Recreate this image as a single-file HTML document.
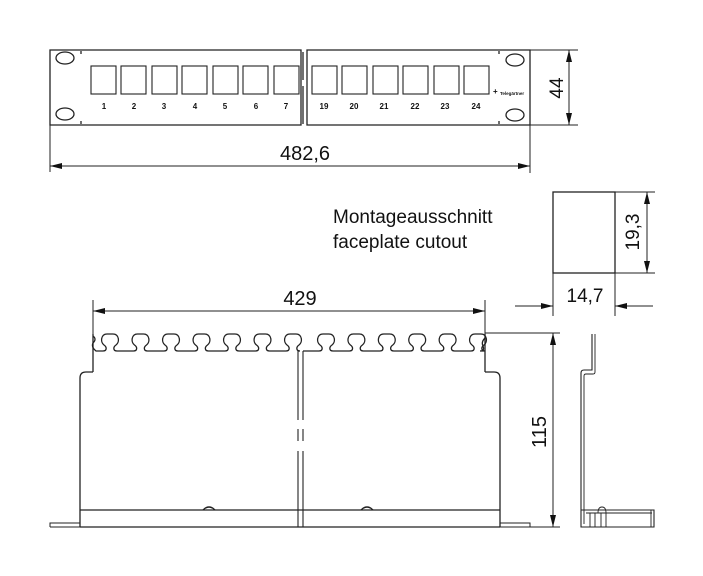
<!DOCTYPE html>
<html><head><meta charset="utf-8"><style>
html,body{margin:0;padding:0;background:#fff;}
svg{display:block;}
text{font-family:"Liberation Sans","DejaVu Sans",sans-serif;fill:#111;}
</style></head><body>
<svg width="703" height="576" viewBox="0 0 703 576" xmlns="http://www.w3.org/2000/svg">
<defs>
<marker id="a" viewBox="0 0 12 6" refX="12" refY="3" markerWidth="12" markerHeight="6" orient="auto-start-reverse" markerUnits="userSpaceOnUse"><path d="M0,0 L12,3 L0,6 z" fill="#111"/></marker>
</defs>
<g fill="none" stroke="#222" stroke-width="1.3">
<!-- front panel -->
<path d="M50,50 H301 V125 H50 Z"/>
<path d="M307,50 H530 V125 H307 Z"/>
<line x1="81" y1="51" x2="81" y2="54"/><line x1="81" y1="121" x2="81" y2="124"/>
<line x1="499" y1="51" x2="499" y2="54"/><line x1="499" y1="121" x2="499" y2="124"/>
<line x1="303" y1="52" x2="303" y2="80"/><line x1="303" y1="86" x2="303" y2="124"/>
<ellipse cx="65" cy="58" rx="9" ry="6"/><ellipse cx="65" cy="114" rx="9" ry="6"/>
<ellipse cx="515" cy="60" rx="9" ry="6"/><ellipse cx="515" cy="115" rx="9" ry="6"/>
<g stroke-width="1.1">
<rect x="91" y="66" width="25" height="28"/><rect x="121" y="66" width="25" height="28"/>
<rect x="152" y="66" width="25" height="28"/><rect x="182" y="66" width="25" height="28"/>
<rect x="213" y="66" width="25" height="28"/><rect x="243" y="66" width="25" height="28"/>
<rect x="274" y="66" width="25" height="28"/>
<rect x="312" y="66" width="25" height="28"/><rect x="342" y="66" width="25" height="28"/>
<rect x="373" y="66" width="25" height="28"/><rect x="403" y="66" width="25" height="28"/>
<rect x="434" y="66" width="25" height="28"/><rect x="464" y="66" width="25" height="28"/>
</g>
<!-- 44 dim -->
<line x1="530" y1="50" x2="578" y2="50" stroke-width="1"/><line x1="530" y1="125" x2="578" y2="125" stroke-width="1"/>
<line x1="569" y1="50" x2="569" y2="125" stroke-width="1" marker-start="url(#a)" marker-end="url(#a)"/>
<!-- 482,6 dim -->
<line x1="50" y1="125" x2="50" y2="172" stroke-width="1"/><line x1="530" y1="125" x2="530" y2="173" stroke-width="1"/>
<line x1="50" y1="166" x2="530" y2="166" stroke-width="1" marker-start="url(#a)" marker-end="url(#a)"/>
<!-- cutout -->
<rect x="553" y="192" width="62" height="81"/>
<line x1="615" y1="192" x2="655" y2="192" stroke-width="1"/><line x1="615" y1="273" x2="655" y2="273" stroke-width="1"/>
<line x1="647" y1="192" x2="647" y2="273" stroke-width="1" marker-start="url(#a)" marker-end="url(#a)"/>
<line x1="553" y1="273" x2="553" y2="316" stroke-width="1"/><line x1="615" y1="273" x2="615" y2="316" stroke-width="1"/>
<line x1="515" y1="306" x2="553" y2="306" stroke-width="1" marker-end="url(#a)"/>
<line x1="653" y1="306" x2="615" y2="306" stroke-width="1" marker-end="url(#a)"/>
<!-- 429 dim -->
<line x1="93" y1="300" x2="93" y2="334" stroke-width="1"/><line x1="485" y1="300" x2="485" y2="334" stroke-width="1"/>
<line x1="93" y1="311" x2="485" y2="311" stroke-width="1" marker-start="url(#a)" marker-end="url(#a)"/>
<!-- comb -->
<path d="M93,334 V372 M485,334 V372"/>
<path d="M93,336 q4,3 0,7 q-2,4 3,8 H103
c4,0 4,-4 1,-6 c-4,-3 -3,-11 3,-11 h6 c6,0 7,8 3,11 c-3,2 -3,6 1,6 h16.5
c4,0 4,-4 1,-6 c-4,-3 -3,-11 3,-11 h6 c6,0 7,8 3,11 c-3,2 -3,6 1,6 h16.5
c4,0 4,-4 1,-6 c-4,-3 -3,-11 3,-11 h6 c6,0 7,8 3,11 c-3,2 -3,6 1,6 h16.5
c4,0 4,-4 1,-6 c-4,-3 -3,-11 3,-11 h6 c6,0 7,8 3,11 c-3,2 -3,6 1,6 h16.5
c4,0 4,-4 1,-6 c-4,-3 -3,-11 3,-11 h6 c6,0 7,8 3,11 c-3,2 -3,6 1,6 h16.5
c4,0 4,-4 1,-6 c-4,-3 -3,-11 3,-11 h6 c6,0 7,8 3,11 c-3,2 -3,6 1,6 h16.5
c4,0 4,-4 1,-6 c-4,-3 -3,-11 3,-11 h6 c6,0 7,8 3,11 c-3,2 -3,6 1,6 H298"/>
<path d="M303,351 H319
c4,0 4,-4 1,-6 c-4,-3 -3,-11 3,-11 h6 c6,0 7,8 3,11 c-3,2 -3,6 1,6 h16.4
c4,0 4,-4 1,-6 c-4,-3 -3,-11 3,-11 h6 c6,0 7,8 3,11 c-3,2 -3,6 1,6 h16.4
c4,0 4,-4 1,-6 c-4,-3 -3,-11 3,-11 h6 c6,0 7,8 3,11 c-3,2 -3,6 1,6 h16.4
c4,0 4,-4 1,-6 c-4,-3 -3,-11 3,-11 h6 c6,0 7,8 3,11 c-3,2 -3,6 1,6 h16.4
c4,0 4,-4 1,-6 c-4,-3 -3,-11 3,-11 h6 c6,0 7,8 3,11 c-3,2 -3,6 1,6 h16.4
c4,0 4,-4 1,-6 c-4,-3 -3,-11 3,-11 h6 c6,0 7,8 3,11 c-3,2 -3,6 1,6 H480 q5,0 3,-5 q-2,-4 2,-8"/>
<!-- body -->
<path d="M93,372 H86 q-6,0 -6,6 V527 M485,372 H494 q6,0 6,6 V527"/>
<line x1="80" y1="510" x2="500" y2="510"/>
<line x1="80" y1="527" x2="500" y2="527"/>
<path d="M50,527 V523 H80 M500,523 H530 V527 H50" stroke-width="1"/>
<path d="M203,510 q6,-6 12,0 M361,510 q6,-6 12,0"/>
<!-- split lines -->
<path d="M298,351 V420 M303,351 V420 M298,429 V441 M303,429 V441 M298,451 V527 M303,451 V527" stroke-width="1.1"/>
<!-- 115 dim -->
<line x1="485" y1="333" x2="560" y2="333" stroke-width="1"/><line x1="530" y1="527" x2="560" y2="527" stroke-width="1"/>
<line x1="553" y1="333" x2="553" y2="527" stroke-width="1" marker-start="url(#a)" marker-end="url(#a)"/>
<!-- side profile -->
<path d="M592,334 V370 H584 q-3,0 -3,3 V527 H654 V510 H581" stroke-width="1.1"/>
<path d="M595,334 V372 q0,2 -2,2 H586 q-2,0 -2,2 V524" stroke-width="0.9"/>
<path d="M586,513 H652 M590,513 V527 M595,513 V527 M601,513 V527 M598,513 q0,-6 4,-6 q4,0 4,6 M606,513 V527 M651,510 V527" stroke-width="0.9"/>
</g>
<!-- labels -->
<g font-weight="bold" font-size="8" text-anchor="middle">
<text x="104" y="109">1</text><text x="134" y="109">2</text><text x="164" y="109">3</text><text x="195" y="109">4</text><text x="225" y="109">5</text><text x="256" y="109">6</text><text x="286" y="109">7</text>
<text x="324" y="109">19</text><text x="354" y="109">20</text><text x="384" y="109">21</text><text x="415" y="109">22</text><text x="445" y="109">23</text><text x="476" y="109">24</text>
</g>
<text x="493" y="94" font-size="8" font-weight="bold">+</text>
<text x="500" y="95" font-size="4.5" font-weight="bold">Telegärtner</text>
<text x="305" y="160" font-size="20" text-anchor="middle">482,6</text>
<text x="300" y="305" font-size="20" text-anchor="middle">429</text>
<text x="333" y="223" font-size="19">Montageausschnitt</text>
<text x="333" y="248" font-size="19">faceplate cutout</text>
<text x="585" y="302" font-size="19" text-anchor="middle">14,7</text>
<text transform="translate(639,232) rotate(-90)" font-size="19" text-anchor="middle">19,3</text>
<text transform="translate(563,88) rotate(-90)" font-size="19" text-anchor="middle">44</text>
<text transform="translate(546,432) rotate(-90)" font-size="20" text-anchor="middle">115</text>
</svg>
</body></html>
